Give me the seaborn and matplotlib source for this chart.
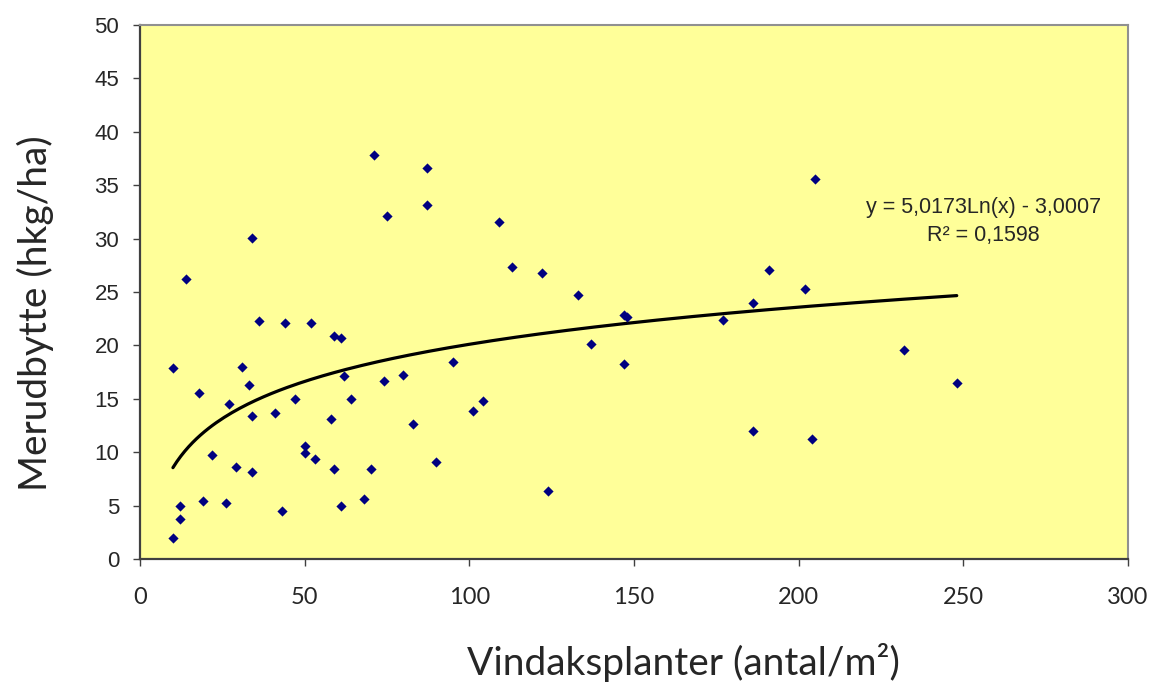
import numpy as np
import pandas as pd
import seaborn as sns
import matplotlib.pyplot as plt

# plants per m2 and yield gain (hkg/ha)
plants = [71, 87, 87, 75, 34, 14, 36, 44, 52, 59, 61, 10, 31, 33, 62, 74, 80, 95,
          18, 27, 34, 41, 47, 64, 58, 83, 50, 50, 53, 22, 29, 34, 59, 70, 90,
          12, 12, 10, 19, 26, 43, 61, 68,
          109, 113, 122, 133, 147, 148, 137, 147, 177, 186, 191, 101, 104, 124, 186,
          205, 202, 232, 248, 204]
gain = [37.8, 36.6, 33.1, 32.1, 30.1, 26.2, 22.3, 22.1, 22.1, 20.9, 20.7, 17.9, 18.0, 16.3,
        17.1, 16.7, 17.2, 18.4, 15.5, 14.5, 13.4, 13.7, 15.0, 15.0, 13.1, 12.6, 10.6, 9.9,
        9.4, 9.7, 8.6, 8.1, 8.4, 8.4, 9.1, 5.0, 3.7, 2.0, 5.4, 5.2, 4.5, 5.0, 5.6,
        31.6, 27.3, 26.8, 24.7, 22.8, 22.7, 20.1, 18.3, 22.4, 24.0, 27.1, 13.9, 14.8, 6.4, 12.0,
        35.6, 25.3, 19.6, 16.5, 11.2]

# logarithmic trend line as printed on the chart
slope = 5.0173
intercept = -3.0007
r2 = 0.1598

x_ticks = [0, 50, 100, 150, 200, 250, 300]
y_ticks = [0, 5, 10, 15, 20, 25, 30, 35, 40, 45, 50]

df = pd.DataFrame({"plants": plants, "gain": gain})
xs = np.linspace(min(plants), max(plants), 200)
trend = pd.DataFrame({"x": xs, "y": slope * np.log(xs) + intercept})

sns.set_theme(style="white")
plt.rcParams['font.family'] = ['Liberation Sans', 'DejaVu Sans']

fig = plt.figure(figsize=(11.49, 6.84), dpi=100)
ax = fig.add_axes([140 / 1149, 1 - 559 / 684, 988 / 1149, 534 / 684])
ax.set_facecolor('#FFFF99')

sns.lineplot(data=trend, x="x", y="y", color="black", lw=2.3, ax=ax)
sns.scatterplot(data=df, x="plants", y="gain", marker="D", color="#000080",
                s=27, linewidth=0, ax=ax, zorder=3)

ax.set_xlim(0, 300)
ax.set_ylim(0, 50)
ax.set_xticks(x_ticks)
ax.set_yticks(y_ticks)
ax.tick_params(axis='y', direction='out', length=5, width=1, color='#404040',
               labelsize=16, pad=10, left=True)
ax.tick_params(axis='x', direction='out', length=5, width=1, color='#404040',
               labelsize=17, pad=15, bottom=True)
for lab in ax.get_xticklabels():
    lab.set_family(['Lato', 'DejaVu Sans'])

for side in ['top', 'right']:
    ax.spines[side].set_color('#909090')
    ax.spines[side].set_linewidth(1.5)
for side in ['left', 'bottom']:
    ax.spines[side].set_color('#404040')
    ax.spines[side].set_linewidth(1.6)

ax.set_xlabel("")
ax.set_ylabel("")
fig.text(683 / 1149, 1 - 662 / 684, "Vindaksplanter (antal/m²)", fontsize=28,
         family=['Lato', 'DejaVu Sans'], ha='center', va='center')
fig.text(35 / 1149, 1 - 313 / 684, "Merudbytte (hkg/ha)", fontsize=28,
         family=['Lato', 'DejaVu Sans'], rotation=90, ha='center', va='center')

eq_text = f"y = {slope:.4f}Ln(x) - {abs(intercept):.4f}\nR² = {r2:.4f}".replace(".", ",")
ax.text(256, 31.6, eq_text, fontsize=15.5, ha='center', va='center',
        linespacing=1.4)

fig.savefig("out.png", dpi=100)
